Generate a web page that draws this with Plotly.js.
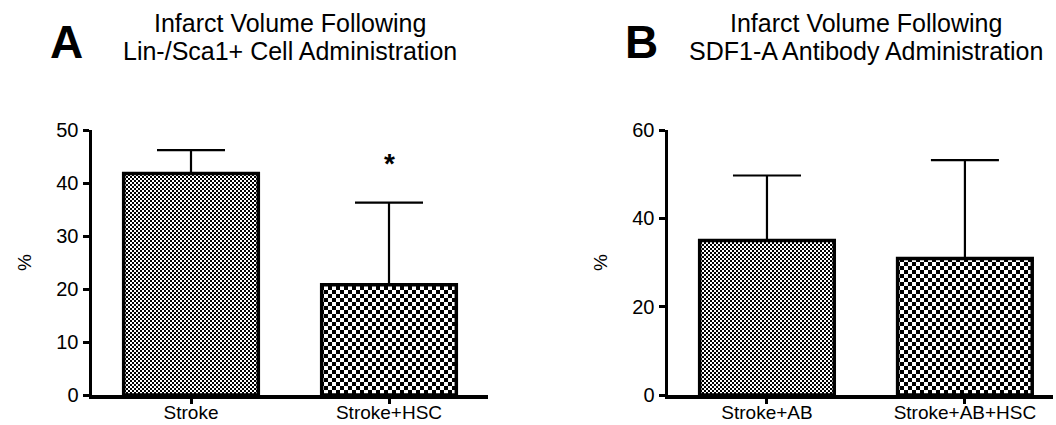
<!DOCTYPE html>
<html>
<head>
<meta charset="utf-8">
<script src="https://cdn.plot.ly/plotly-3.0.1.min.js"></script>
<style>html,body{margin:0;padding:0;background:#fff;}#chart{width:1056px;height:425px;}</style>
</head>
<body>
<div id="chart"></div>
<script>
// Panel A data
const catsA = ["Stroke", "Stroke+HSC"];
const meanA = [41.8, 20.8];
const errA = [4.4, 15.5];
// Panel B data
const catsB = ["Stroke+AB", "Stroke+AB+HSC"];
const meanB = [35.0, 30.9];
const errB = [14.7, 22.3];
const titleA = ["Infarct Volume Following", "Lin-/Sca1+ Cell Administration"];
const titleB = ["Infarct Volume Following", "SDF1-A Antibody Administration"];
const yTitle = "%";

const FONT = "Liberation Sans, Arial, sans-serif";
const W = 1056, H = 425, T = 130, B = 30;
const plotH = H - T - B;
const py = p => (H - B - p) / plotH; // pixel-from-top to paper y

function barTrace(cats, vals, errs, xa, ya) {
  return {
    type: "bar", x: cats, y: vals, xaxis: xa, yaxis: ya, width: 0.68,
    marker: {color: "#888", line: {color: "#000", width: 3.5}},
    error_y: {type: "data", symmetric: false, array: errs, arrayminus: errs.map(() => 0),
      color: "#000", thickness: 2.2, width: 34},
    hoverinfo: "none", showlegend: false
  };
}

const axisY = {
  showline: true, linecolor: "#000", linewidth: 3.5, ticks: "outside", ticklen: 6,
  tickwidth: 3, tickcolor: "#000", showgrid: false, zeroline: false,
  tickfont: {family: FONT, size: 20, color: "#000"},
  title: {text: yTitle, font: {family: FONT, size: 19, color: "#000"}, standoff: 20}
};
const axisX = {
  showline: true, linecolor: "#000", linewidth: 3.5, ticks: "outside", ticklen: 5,
  tickwidth: 3, tickcolor: "#000", showgrid: false, zeroline: false,
  ticklabelstandoff: -7,
  tickfont: {family: FONT, size: 19, color: "#000"}, type: "category"
};

function titleAnn(text, xpx, ypx) {
  return {text: text, xref: "paper", yref: "paper", x: xpx / W, y: py(ypx), showarrow: false,
    font: {family: FONT, size: 25, color: "#000"}, xanchor: "center", yanchor: "middle"};
}

const layout = {
  width: W, height: H, margin: {l: 0, r: 0, t: T, b: B},
  paper_bgcolor: "#fff", plot_bgcolor: "#fff", bargap: 0,
  font: {family: FONT, color: "#000"},
  xaxis: Object.assign({}, axisX, {domain: [92 / W, 488 / W], range: [-0.5, 1.5], anchor: "y"}),
  yaxis: Object.assign({}, axisY, {range: [0, 50], dtick: 10, anchor: "x"}),
  xaxis2: Object.assign({}, axisX, {domain: [668 / W, 1053 / W], range: [-0.5, 1.445], anchor: "y2"}),
  yaxis2: Object.assign({}, axisY, {range: [0, 60], dtick: 20, anchor: "x2"}),
  annotations: [
    {text: "A", xref: "paper", yref: "paper", x: 66 / W, y: py(42), showarrow: false,
      font: {family: FONT, size: 46, color: "#000", weight: "bold"}, xanchor: "center", yanchor: "middle"},
    {text: "B", xref: "paper", yref: "paper", x: 641 / W, y: py(42), showarrow: false,
      font: {family: FONT, size: 46, color: "#000", weight: "bold"}, xanchor: "center", yanchor: "middle"},
    titleAnn(titleA[0], 290, 23), titleAnn(titleA[1], 290, 51),
    titleAnn(titleB[0], 866, 23), titleAnn(titleB[1], 866, 51),
    {text: "*", xref: "x", yref: "y", x: catsA[1], y: 43.6, showarrow: false,
      font: {family: FONT, size: 28, color: "#000", weight: "bold"}, xanchor: "center", yanchor: "middle"}
  ]
};

const data = [barTrace(catsA, meanA, errA, "x", "y"), barTrace(catsB, meanB, errB, "x2", "y2")];

Plotly.newPlot("chart", data, layout, {staticPlot: true}).then(gd => {
  const svg = gd.querySelector(".main-svg");
  const ns = "http://www.w3.org/2000/svg";
  let defs = svg.querySelector("defs");
  if (!defs) { defs = document.createElementNS(ns, "defs"); svg.insertBefore(defs, svg.firstChild); }
  function mk(id, s) {
    const p = document.createElementNS(ns, "pattern");
    p.setAttribute("id", id); p.setAttribute("patternUnits", "userSpaceOnUse");
    p.setAttribute("width", 2 * s); p.setAttribute("height", 2 * s);
    const r = (x, y, c) => { const e = document.createElementNS(ns, "rect");
      e.setAttribute("x", x); e.setAttribute("y", y); e.setAttribute("width", s); e.setAttribute("height", s);
      e.setAttribute("fill", c); p.appendChild(e); };
    r(0, 0, "#000"); r(s, 0, "#fff"); r(0, s, "#fff"); r(s, s, "#000");
    defs.appendChild(p);
  }
  mk("chkFine", 2); mk("chkCoarse", 4);
  gd.querySelectorAll(".barlayer .trace").forEach(tr => {
    tr.querySelectorAll(".point path").forEach((path, i) => {
      path.style.fill = i === 0 ? "url(#chkFine)" : "url(#chkCoarse)";
      path.style.fillOpacity = 1;
    });
  });
});
</script>
</body>
</html>
